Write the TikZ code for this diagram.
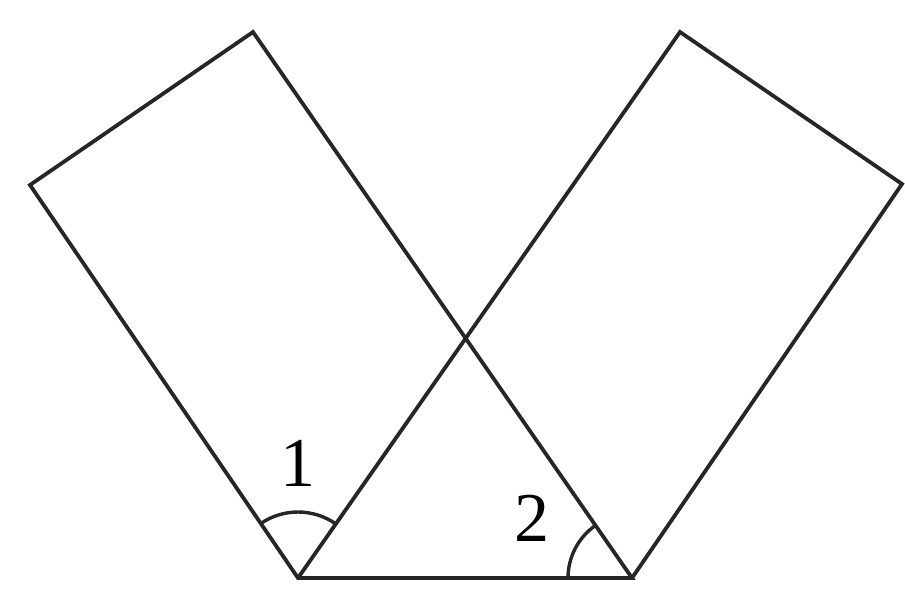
\documentclass[tikz,border=0pt]{standalone}
\usepackage{fontspec}
\setmainfont{Liberation Serif}
\usetikzlibrary{calc}
\begin{document}
\begin{tikzpicture}[x=1pt,y=-1pt,
  edge/.style={line width=3.8pt,line join=miter,color=black!85},
  arcline/.style={line width=3.4pt,color=black!85},
  lbl/.style={font=\fontsize{70}{70}\selectfont,inner sep=0pt}]
\useasboundingbox (0,0) rectangle (905,590);
\coordinate (A) at (30,185);
\coordinate (B) at (253,32);
\coordinate (C) at (680,32);
\coordinate (D) at (902,184);
\coordinate (P) at (298,578);
\coordinate (Q) at (632,578);
\draw[edge] (P) -- (A) -- (B) -- (Q) -- cycle;
\draw[edge] (Q) -- (D) -- (C) -- (P);
% angle 1
\draw[arcline] ($(P)!66pt!(A)$) arc[start angle=-124.3, end angle=-55.0, radius=66];
% angle 2
\draw[arcline] ($(Q)!64pt!(P)$) arc[start angle=180, end angle=235.2, radius=64];
\node[lbl] (n1) at (298,463) {1};
\node[lbl] (n2) at (532,518) {2};
\end{tikzpicture}
\end{document}
